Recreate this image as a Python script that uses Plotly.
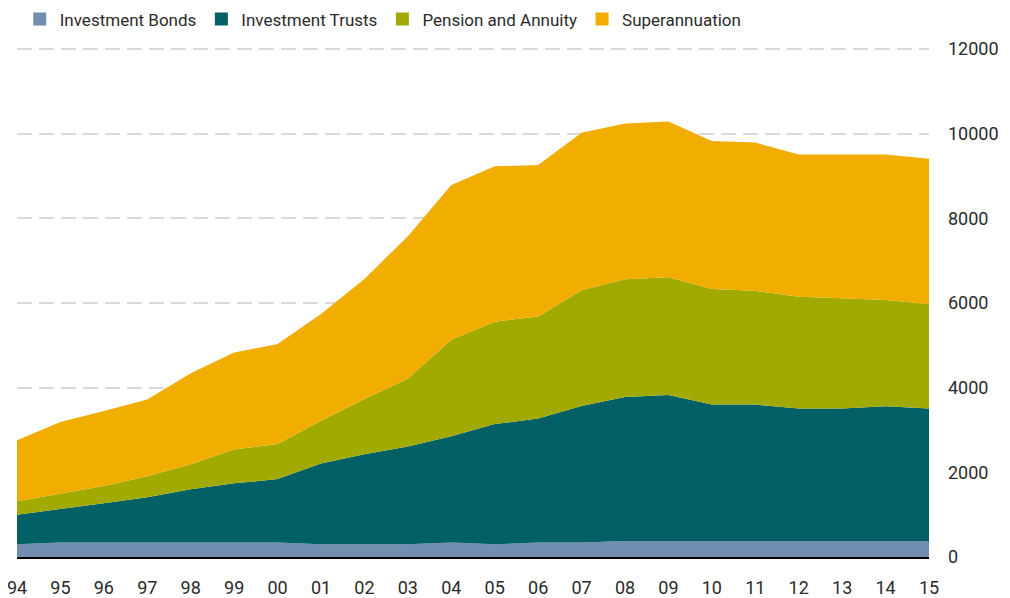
import plotly.graph_objects as go

years = ["94", "95", "96", "97", "98", "99", "00", "01", "02", "03", "04",
         "05", "06", "07", "08", "09", "10", "11", "12", "13", "14", "15"]

investment_bonds = [300, 340, 340, 340, 340, 340, 340, 300, 300, 300, 340,
                    300, 340, 340, 380, 380, 380, 380, 380, 380, 380, 380]
investment_trusts = [700, 790, 930, 1070, 1260, 1400, 1500, 1910, 2130, 2310, 2510,
                     2840, 2930, 3230, 3400, 3450, 3220, 3220, 3130, 3130, 3180, 3130]
pension_annuity = [320, 370, 410, 500, 590, 800, 830, 1010, 1300, 1600, 2280,
                   2420, 2410, 2730, 2780, 2780, 2730, 2690, 2640, 2600, 2510, 2460]
superannuation = [1440, 1690, 1770, 1810, 2150, 2290, 2360, 2520, 2840, 3370, 3660,
                  3670, 3580, 3720, 3680, 3680, 3500, 3500, 3360, 3400, 3440, 3440]

y_ticks = [0, 2000, 4000, 6000, 8000, 10000, 12000]

series = [
    ("Investment Bonds", investment_bonds, "#718DB0"),
    ("Investment Trusts", investment_trusts, "#006066"),
    ("Pension and Annuity", pension_annuity, "#A0AA00"),
    ("Superannuation", superannuation, "#F1AE00"),
]

FONT = "Roboto, sans-serif"
TXT = "#2B2B2B"

xs = list(range(len(years)))
fig = go.Figure()
for name, vals, col in series:
    fig.add_trace(go.Scatter(
        x=xs, y=vals, name=name, stackgroup="one", mode="lines",
        line=dict(width=0, color=col), fillcolor=col, showlegend=False,
        hoverinfo="skip"))
for name, vals, col in series:
    fig.add_trace(go.Scatter(
        x=[None], y=[None], name=name, mode="markers",
        marker=dict(symbol="square", size=13, color=col), showlegend=True))

# page body has an 8px margin, so the figure is 8px smaller and offsets reduced
fig.update_layout(
    width=1002, height=590,
    margin=dict(l=9, r=81, t=40, b=40.5, autoexpand=False),
    paper_bgcolor="white", plot_bgcolor="white",
    font=dict(family=FONT, size=18, color=TXT),
    showlegend=True,
    legend=dict(orientation="h", x=0.003, xanchor="left", y=1.056, yanchor="middle",
                font=dict(family=FONT, size=17, color=TXT),
                traceorder="normal", itemwidth=30, bgcolor="rgba(0,0,0,0)"),
    xaxis=dict(range=[0, len(years) - 1], tickmode="array", tickvals=xs,
               ticktext=years, showgrid=False, zeroline=False, automargin=False,
               showline=True, linecolor="black", linewidth=2,
               ticks="", ticklabelstandoff=13, ticklabeloverflow="allow",
               fixedrange=True),
    yaxis=dict(range=[0, 12025], side="right", tickmode="array", tickvals=y_ticks,
               ticktext=[str(v) for v in y_ticks], automargin=False,
               showgrid=True, gridcolor="#D9D9D9", gridwidth=2, griddash="15px,7px",
               zeroline=False, showline=False, ticks="", ticklabeloverflow="allow",
               ticklabelstandoff=18, fixedrange=True),
)

fig.write_html("out.html")
